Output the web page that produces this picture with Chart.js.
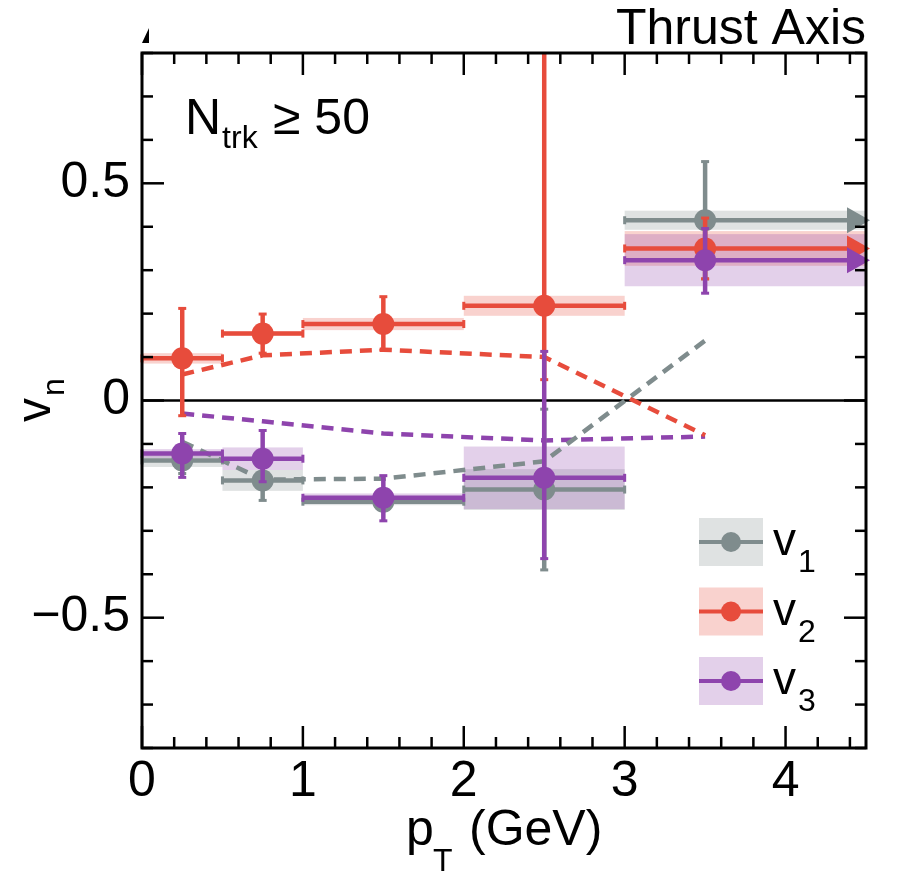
<!DOCTYPE html>
<html>
<head>
<meta charset="utf-8">
<script src="https://cdn.jsdelivr.net/npm/chart.js@4.4.1/dist/chart.umd.min.js"></script>
<style>
  body { margin: 0; background: #fff; }
  #wrap { width: 897px; height: 874px; }
</style>
</head>
<body>
<div id="wrap"><canvas id="chart" width="897" height="874"></canvas></div>
<script>
// pT bins (GeV); the last bin is open-ended (arrow)
const pTLow = [0, 0.5, 1, 2, 3];
const pTHigh = [0.5, 1, 2, 3, 4.5];
const pTMid = [0.25, 0.75, 1.5, 2.5, 3.5];
const openBin = [false, false, false, false, true];

// v1
const v1 = [-0.138, -0.184, -0.233, -0.205, 0.415];
const v1ErrUp = [0.03, 0.046, 0.02, 0.185, 0.135];
const v1ErrDown = [0.03, 0.046, 0.02, 0.185, 0.135];
const v1Sys = [0.015, 0.024, 0.008, 0.047, 0.022];
const v1Model = [-0.095, -0.182, -0.18, -0.14, 0.138];

// v2
const v2 = [0.097, 0.154, 0.176, 0.218, 0.35];
const v2ErrUp = [0.115, 0.045, 0.063, 0.7, 0.07];
const v2ErrDown = [0.132, 0.045, 0.06, 0.17, 0.07];
const v2Sys = [0.012, 0.005, 0.014, 0.023, 0.04];
const v2Model = [0.06, 0.104, 0.117, 0.1, -0.08];

// v3
const v3 = [-0.122, -0.134, -0.224, -0.178, 0.323];
const v3ErrUp = [0.046, 0.065, 0.051, 0.291, 0.073];
const v3ErrDown = [0.055, 0.053, 0.053, 0.186, 0.076];
const v3Sys = [0.01, 0.026, 0.01, 0.072, 0.06];
const v3Model = [-0.03, -0.048, -0.076, -0.092, -0.083];

const xTicks = [0, 1, 2, 3, 4];
const yTicks = [-0.5, 0, 0.5];

const FONT = "'Liberation Sans', Arial, sans-serif";
Chart.defaults.font.family = FONT;

const series = [
  { sub: '1', color: '#7f8c8d', fill: 'rgba(127,140,141,0.25)', vals: v1, up: v1ErrUp, dn: v1ErrDown, sys: v1Sys, model: v1Model, order: 3 },
  { sub: '2', color: '#e74c3c', fill: 'rgba(231,76,60,0.25)', vals: v2, up: v2ErrUp, dn: v2ErrDown, sys: v2Sys, model: v2Model, order: 2 },
  { sub: '3', color: '#8e44ad', fill: 'rgba(142,68,173,0.25)', vals: v3, up: v3ErrUp, dn: v3ErrDown, sys: v3Sys, model: v3Model, order: 1 }
];

const datasets = [];
series.forEach(s => {
  datasets.push({
    type: 'line',
    label: 'model v' + s.sub,
    data: pTMid.map((x, j) => ({ x: x, y: s.model[j] })),
    borderColor: s.color,
    borderWidth: 4.5,
    borderDash: [12, 8],
    pointRadius: 0,
    fill: false,
    tension: 0,
    order: 10
  });
});
series.forEach((s, i) => {
  datasets.push({
    type: 'scatter',
    label: 'v' + s.sub,
    data: pTMid.map((x, j) => ({ x: x, y: s.vals[j] })),
    backgroundColor: s.color,
    borderWidth: 0,
    pointRadius: 11,
    order: s.order,
    errIndex: i
  });
});

function clipArea(ctx, a) {
  ctx.beginPath();
  ctx.rect(a.left - 8, a.top, a.right - a.left + 14, a.bottom - a.top);
  ctx.clip();
}

function line(ctx, x0, y0, x1, y1) {
  ctx.beginPath();
  ctx.moveTo(x0, y0);
  ctx.lineTo(x1, y1);
  ctx.stroke();
}

const plotDecor = {
  id: 'plotDecor',
  beforeDatasetsDraw(chart) {
    const { ctx, chartArea: a, scales: { x, y } } = chart;
    ctx.save();
    clipArea(ctx, a);
    // systematic boxes
    series.forEach(s => {
      ctx.fillStyle = s.fill;
      pTMid.forEach((_, j) => {
        const x0 = x.getPixelForValue(pTLow[j]);
        const x1 = x.getPixelForValue(pTHigh[j]);
        const y0 = y.getPixelForValue(s.vals[j] + s.sys[j]);
        const y1 = y.getPixelForValue(s.vals[j] - s.sys[j]);
        ctx.fillRect(x0, y0, x1 - x0, y1 - y0);
      });
    });
    // zero line
    ctx.strokeStyle = '#000';
    ctx.lineWidth = 2.5;
    const y0 = y.getPixelForValue(0);
    line(ctx, a.left, y0, a.right, y0);
    ctx.restore();
  },
  beforeDatasetDraw(chart, args) {
    const ds = chart.data.datasets[args.index];
    if (ds.errIndex === undefined) return;
    const s = series[ds.errIndex];
    const { ctx, chartArea: a, scales: { x, y } } = chart;
    ctx.save();
    clipArea(ctx, a);
    ctx.strokeStyle = s.color;
    ctx.fillStyle = s.color;
    pTMid.forEach((xv, j) => {
      const px = x.getPixelForValue(xv);
      const py = y.getPixelForValue(s.vals[j]);
      const xl = x.getPixelForValue(pTLow[j]);
      const xr = x.getPixelForValue(pTHigh[j]);
      const yt = y.getPixelForValue(s.vals[j] + s.up[j]);
      const yb = y.getPixelForValue(s.vals[j] - s.dn[j]);
      ctx.lineWidth = 4.5;
      line(ctx, xl, py, openBin[j] ? xr - 10 : xr, py);
      line(ctx, px, yt, px, yb);
      // caps
      ctx.lineWidth = 3;
      line(ctx, xl, py - 4, xl, py + 4);
      if (!openBin[j]) line(ctx, xr, py - 4, xr, py + 4);
      line(ctx, px - 4, yt, px + 4, yt);
      line(ctx, px - 4, yb, px + 4, yb);
      if (openBin[j]) {
        ctx.beginPath();
        ctx.moveTo(xr + 4, py);
        ctx.lineTo(xr - 19, py - 13);
        ctx.lineTo(xr - 19, py + 13);
        ctx.closePath();
        ctx.fill();
      }
    });
    ctx.restore();
  },
  afterDraw(chart) {
    const { ctx, chartArea: a, scales: { x, y } } = chart;
    ctx.save();
    ctx.strokeStyle = '#000';
    ctx.fillStyle = '#000';
    // ticks
    ctx.lineWidth = 2.5;
    for (let k = -8; k <= 8; k++) {
      const v = k / 10;
      const py = y.getPixelForValue(v);
      const len = k % 5 === 0 ? 22 : 11;
      line(ctx, a.left, py, a.left + len, py);
      line(ctx, a.right, py, a.right - len, py);
    }
    for (let k = 0; k <= 22; k++) {
      const v = k / 5;
      const px = x.getPixelForValue(v);
      const len = k % 5 === 0 ? 22 : 11;
      line(ctx, px, a.bottom, px, a.bottom - len);
      line(ctx, px, a.top, px, a.top + len);
    }
    // frame
    ctx.lineWidth = 3;
    ctx.strokeRect(a.left, a.top, a.right - a.left, a.bottom - a.top);

    // small marker at top-left
    ctx.beginPath();
    ctx.moveTo(a.left, 43);
    ctx.lineTo(a.left + 7, 28);
    ctx.lineTo(a.left + 7, 43);
    ctx.closePath();
    ctx.fill();

    // texts
    ctx.textBaseline = 'alphabetic';
    ctx.textAlign = 'right';
    ctx.font = '50px ' + FONT;
    ctx.fillText('Thrust Axis', a.right, 44);

    ctx.textAlign = 'left';
    ctx.font = '50px ' + FONT;
    ctx.fillText('N', 185, 134);
    const nw = ctx.measureText('N').width;
    ctx.font = '32px ' + FONT;
    ctx.fillText('trk', 185 + nw + 1, 148);
    ctx.font = '50px ' + FONT;
    ctx.fillText('\u2265 50', 273, 134);

    // x title
    ctx.font = '50px ' + FONT;
    ctx.fillText('p', 406, 845);
    ctx.font = '32px ' + FONT;
    ctx.fillText('T', 433, 871);
    ctx.font = '50px ' + FONT;
    ctx.fillText('(GeV)', 469, 845);

    // y title
    ctx.save();
    ctx.translate(50, 422);
    ctx.rotate(-Math.PI / 2);
    ctx.font = '48px ' + FONT;
    ctx.fillText('v', 0, 0);
    ctx.font = '32px ' + FONT;
    ctx.fillText('n', 26, 14);
    ctx.restore();

    // legend
    series.forEach((s, i) => {
      const bx = 699, bw = 64, bh = 48;
      const by = 518 + i * 69.5;
      const cy = by + bh / 2;
      ctx.fillStyle = s.fill;
      ctx.fillRect(bx, by, bw, bh);
      ctx.strokeStyle = s.color;
      ctx.lineWidth = 4;
      line(ctx, bx, cy, bx + bw, cy);
      ctx.fillStyle = s.color;
      ctx.beginPath();
      ctx.arc(bx + bw / 2, cy, 10, 0, Math.PI * 2);
      ctx.fill();
      ctx.fillStyle = '#000';
      ctx.font = '46px ' + FONT;
      ctx.fillText('v', 773, cy + 13);
      const vw = ctx.measureText('v').width;
      ctx.font = '32px ' + FONT;
      ctx.fillText(s.sub, 773 + vw + 2, cy + 30);
    });
    ctx.restore();
  }
};

new Chart(document.getElementById('chart'), {
  type: 'scatter',
  data: { datasets: datasets },
  options: {
    responsive: false,
    animation: false,
    devicePixelRatio: 1,
    layout: { padding: { top: 53, right: 31, left: 0, bottom: 0 } },
    plugins: { legend: { display: false }, tooltip: { enabled: false } },
    scales: {
      x: {
        type: 'linear',
        min: 0,
        max: 4.5,
        grid: { display: false, drawTicks: false },
        border: { display: false },
        afterFit: s => { s.height = 126; },
        afterBuildTicks: s => { s.ticks = xTicks.map(v => ({ value: v })); },
        ticks: {
          padding: 4,
          color: '#000',
          font: { size: 50 },
          maxRotation: 0,
          autoSkip: false,
          callback: v => String(v)
        }
      },
      y: {
        type: 'linear',
        min: -0.8,
        max: 0.8,
        grid: { display: false, drawTicks: false },
        border: { display: false },
        afterFit: s => { s.width = 142; },
        afterBuildTicks: s => { s.ticks = yTicks.map(v => ({ value: v })); },
        ticks: {
          padding: 12,
          color: '#000',
          font: { size: 50 },
          autoSkip: false,
          callback: v => (v === 0 ? '0' : (v < 0 ? '\u2212' : '') + Math.abs(v).toFixed(1))
        }
      }
    }
  },
  plugins: [plotDecor]
});
</script>
</body>
</html>
